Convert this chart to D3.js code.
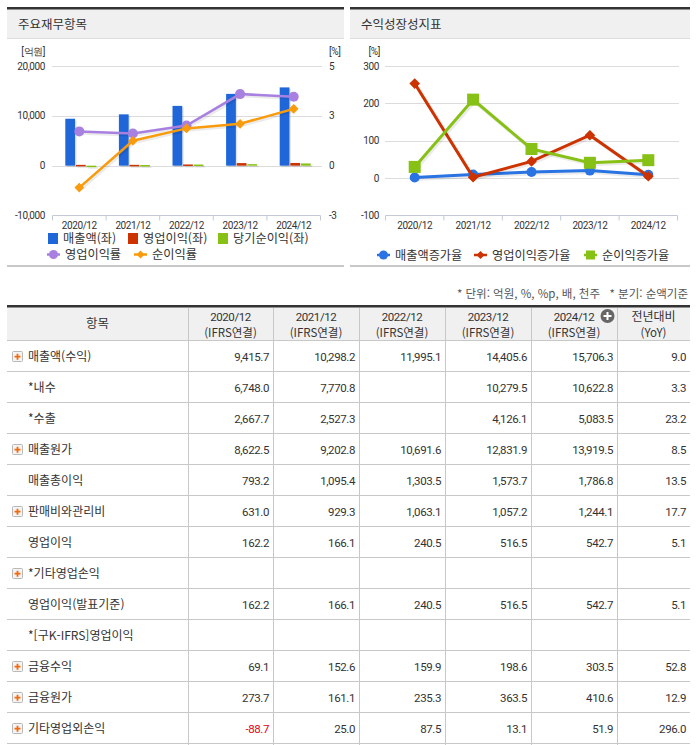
<!DOCTYPE html>
<html lang="ko">
<head>
<meta charset="utf-8">
<title>주요재무항목</title>
<script src="https://cdn.jsdelivr.net/npm/d3@7/dist/d3.min.js"></script>
<style>
  body { margin: 0; background: #fff; }
  svg text { font-family: "Noto Sans CJK KR", "Noto Sans", sans-serif; fill: #333; }
  .num { font-family: Roboto, "Liberation Sans", sans-serif; letter-spacing: -0.4px; }
</style>
</head>
<body>
<script>

// ---- chart data ----
var years = ["2020/12", "2021/12", "2022/12", "2023/12", "2024/12"];
var sales = [9415.7, 10298.2, 11995.1, 14405.6, 15706.3];
var opIncome = [162.2, 166.1, 240.5, 516.5, 542.7];
var netIncome = [-104, 129, 224, 303, 448];
var opMargin = [1.72, 1.61, 2.01, 3.59, 3.46];
var netMargin = [-1.1, 1.25, 1.87, 2.1, 2.85];

var salesGrowth = [1.5, 9.4, 16.5, 20.1, 9.0];
var opGrowth = [253, 2.4, 44.8, 114.8, 5.1];
var netGrowth = [30, 210, 78, 41, 48];

var leftTicks = [-10000, 0, 10000, 20000];
var rightTicks = [-2.5, 0, 2.5, 5];
var growthTicks = [-100, 0, 100, 200, 300];

// ---- table data ----
var colHeads = ["2020/12", "2021/12", "2022/12", "2023/12", "2024/12"];
var rowLabels = ["매출액(수익)", "*내수", "*수출", "매출원가", "매출총이익", "판매비와관리비", "영업이익",
                 "*기타영업손익", "영업이익(발표기준)", "*[구K-IFRS]영업이익", "금융수익", "금융원가", "기타영업외손익"];
var rowExpand = [true, false, false, true, false, true, false, true, false, false, true, true, true];
var rowValues = [
  ["9,415.7", "10,298.2", "11,995.1", "14,405.6", "15,706.3", "9.0"],
  ["6,748.0", "7,770.8", "", "10,279.5", "10,622.8", "3.3"],
  ["2,667.7", "2,527.3", "", "4,126.1", "5,083.5", "23.2"],
  ["8,622.5", "9,202.8", "10,691.6", "12,831.9", "13,919.5", "8.5"],
  ["793.2", "1,095.4", "1,303.5", "1,573.7", "1,786.8", "13.5"],
  ["631.0", "929.3", "1,063.1", "1,057.2", "1,244.1", "17.7"],
  ["162.2", "166.1", "240.5", "516.5", "542.7", "5.1"],
  ["", "", "", "", "", ""],
  ["162.2", "166.1", "240.5", "516.5", "542.7", "5.1"],
  ["", "", "", "", "", ""],
  ["69.1", "152.6", "159.9", "198.6", "303.5", "52.8"],
  ["273.7", "161.1", "235.3", "363.5", "410.6", "12.9"],
  ["-88.7", "25.0", "87.5", "13.1", "51.9", "296.0"]
];

var width = 697, height = 745;
var svg = d3.select("body").append("svg")
            .attr("width", width)
            .attr("height", height);

var fmt = function(v) { return d3.format(",")(v).replace("\u2212", "-"); };
var fmtRound = function(v) { return String(Math.sign(v) * Math.round(Math.abs(v))); };

function panel(x0, x1, title) {
  svg.append("rect").attr("x", x0).attr("y", 9).attr("width", x1 - x0).attr("height", 29).attr("fill", "#f0f0f0");
  svg.append("rect").attr("x", x0).attr("y", 7).attr("width", x1 - x0).attr("height", 2.5).attr("fill", "#333");
  svg.append("line").attr("x1", x0).attr("x2", x1).attr("y1", 38.5).attr("y2", 38.5).attr("stroke", "#ddd");
  svg.append("rect").attr("x", x0).attr("y", 265).attr("width", x1 - x0).attr("height", 2).attr("fill", "#c8c8c8");
  svg.append("text").attr("x", x0 + 11).attr("y", 28.5).attr("font-size", 12.5).text(title);
}

function xAxis(x, y) {
  var g = svg.append("g").attr("transform", "translate(0," + y + ")");
  var r = x.range();
  g.append("line").attr("x1", r[0]).attr("x2", r[1]).attr("stroke", "#c3cad6");
  var edges = x.domain().map(function(d) { return x(d); }).concat([r[1]]);
  g.selectAll(".tk").data(edges).enter().append("line")
   .attr("x1", function(d) { return d; }).attr("x2", function(d) { return d; })
   .attr("y1", 0).attr("y2", 5).attr("stroke", "#c3cad6");
  g.selectAll(".lb").data(x.domain()).enter().append("text")
   .attr("class", "num")
   .attr("x", function(d) { return x(d) + x.bandwidth() / 2; })
   .attr("y", 13).attr("text-anchor", "middle").attr("font-size", 10).text(function(d) { return d; });
}

function grid(y, ticks, x0, x1) {
  svg.selectAll(null).data(ticks.slice(1)).enter().append("line")
     .attr("x1", x0).attr("x2", x1)
     .attr("y1", function(d) { return Math.round(y(d)) + 0.5; })
     .attr("y2", function(d) { return Math.round(y(d)) + 0.5; })
     .attr("stroke", "#dcdcdc");
}

function yLabels(y, ticks, x, anchor, f) {
  svg.selectAll(null).data(ticks).enter().append("text")
     .attr("class", "num")
     .attr("x", x).attr("y", function(d) { return y(d) + 3.5; })
     .attr("text-anchor", anchor).attr("font-size", 10).text(f);
}

function marker(g, shape, x, y, color, size) {
  if (shape === "circle") {
    g.append("circle").attr("cx", x).attr("cy", y).attr("r", size).attr("fill", color);
  } else if (shape === "diamond") {
    g.append("path").attr("d", d3.symbol(d3.symbolDiamond2, size * size * 2)())
     .attr("transform", "translate(" + x + "," + y + ")").attr("fill", color);
  } else {
    g.append("rect").attr("x", x - size).attr("y", y - size).attr("width", size * 2).attr("height", size * 2).attr("fill", color);
  }
}

function series(x, y, values, color, shape, size, lw) {
  var g = svg.append("g");
  var pts = values.map(function(v, i) { return [x(years[i]) + x.bandwidth() / 2, y(v)]; });
  var line = d3.line();
  g.append("path").attr("d", line(pts.map(function(p) { return [p[0] + 1.5, p[1] + 1.5]; })))
   .attr("fill", "none").attr("stroke", "#000").attr("stroke-opacity", 0.08).attr("stroke-width", lw + 1);
  g.append("path").attr("d", line(pts)).attr("fill", "none").attr("stroke", color).attr("stroke-width", lw);
  pts.forEach(function(p) { marker(g, shape, p[0], p[1], color, size); });
}

function legendItem(x, y, color, shape, label, withLine) {
  var g = svg.append("g");
  if (withLine) {
    g.append("line").attr("x1", x).attr("x2", x + 13).attr("y1", y).attr("y2", y).attr("stroke", color).attr("stroke-width", 2.5);
    marker(g, shape, x + 6.5, y, color, 4.5);
  } else {
    g.append("rect").attr("x", x).attr("y", y - 5.5).attr("width", 10).attr("height", 11).attr("fill", color);
  }
  g.append("text").attr("x", x + (withLine ? 18 : 15)).attr("y", y + 4.5).attr("font-size", 12.2).text(label);
}

// ================= left chart =================
panel(7, 344, "주요재무항목");

var x1 = d3.scaleBand().domain(years).range([52.5, 320.5]);
var yL = d3.scaleLinear().domain([-10000, 20000]).range([215.5, 66]);
var yR = d3.scaleLinear().domain([-2.5, 5]).range([215.5, 66]);

grid(yL, leftTicks, 52, 322);
xAxis(x1, 215.5);
yLabels(yL, leftTicks, 45, "end", fmt);
yLabels(yR, rightTicks, 329, "start", fmtRound);
svg.append("text").attr("class", "num").attr("x", 45).attr("y", 55).attr("text-anchor", "end").attr("font-size", 10).text("[억원]");
svg.append("text").attr("class", "num").attr("x", 329).attr("y", 55).attr("font-size", 10).text("[%]");

var barSeries = [
  { values: sales, color: "#1f66d8" },
  { values: opIncome, color: "#cc3300" },
  { values: netIncome, color: "#88c116" }
];
var sub = d3.scaleBand().domain([0, 1, 2]).range([-14, 17]).paddingInner(0.08);

barSeries.forEach(function(s, k) {
  var g = svg.append("g");
  s.values.forEach(function(v, i) {
    var cx = x1(years[i]) + x1.bandwidth() / 2 + sub(k);
    var y0 = Math.min(yL(v), yL(0)), h = Math.max(Math.abs(yL(v) - yL(0)), 1.5);
    g.append("rect").attr("x", cx + 1.5).attr("y", y0 + 1.5).attr("width", sub.bandwidth()).attr("height", h)
     .attr("fill", "#000").attr("fill-opacity", 0.1);
    g.append("rect").attr("x", cx).attr("y", y0).attr("width", sub.bandwidth()).attr("height", h).attr("fill", s.color);
  });
});

series(x1, yR, opMargin, "#a880e0", "circle", 5, 2.5);
series(x1, yR, netMargin, "#f89c0e", "diamond", 5.5, 2.5);

legendItem(48, 238.5, "#1f66d8", "", "매출액(좌)", false);
legendItem(128, 238.5, "#cc3300", "", "영업이익(좌)", false);
legendItem(218, 238.5, "#88c116", "", "당기순이익(좌)", false);
legendItem(47, 254.5, "#a880e0", "circle", "영업이익률", true);
legendItem(134, 254.5, "#f89c0e", "diamond", "순이익률", true);

// ================= right chart =================
panel(350, 690, "수익성장성지표");

var x2 = d3.scaleBand().domain(years).range([385.5, 677.5]);
var y2 = d3.scaleLinear().domain([-100, 300]).range([215.5, 66]);

grid(y2, growthTicks, 385, 679);
xAxis(x2, 215.5);
yLabels(y2, growthTicks, 379, "end", fmt);
svg.append("text").attr("class", "num").attr("x", 380).attr("y", 55).attr("text-anchor", "end").attr("font-size", 10).text("[%]");

series(x2, y2, salesGrowth, "#2a73e3", "circle", 5, 3);
series(x2, y2, opGrowth, "#cc3300", "diamond", 6, 3);
series(x2, y2, netGrowth, "#88c116", "square", 6, 3);

legendItem(377, 255, "#2a73e3", "circle", "매출액증가율", true);
legendItem(474, 255, "#cc3300", "diamond", "영업이익증가율", true);
legendItem(584, 255, "#88c116", "square", "순이익증가율", true);

// ================= table =================
svg.append("text").attr("x", 600).attr("y", 298).attr("text-anchor", "end").attr("font-size", 11.5)
   .style("fill", "#555").text("* 단위: 억원, %, %p, 배, 천주");
svg.append("text").attr("x", 688).attr("y", 298).attr("text-anchor", "end").attr("font-size", 11.5)
   .style("fill", "#555").text("* 분기: 순액기준");

var colEdges = [7, 188, 273, 359, 445, 531, 617, 690];
var headTop = 307, headBottom = 341;
var rowY = d3.scaleBand().domain(d3.range(rowLabels.length)).range([headBottom, headBottom + 31 * rowLabels.length]);

svg.append("rect").attr("x", 7).attr("y", headTop).attr("width", 683).attr("height", headBottom - headTop).attr("fill", "#f0f0f0");
svg.append("rect").attr("x", 7).attr("y", 305).attr("width", 683).attr("height", 2.5).attr("fill", "#333");

// row lines
svg.selectAll(".rl").data(d3.range(rowLabels.length + 1)).enter().append("line")
   .attr("x1", 7).attr("x2", 690)
   .attr("y1", function(i) { return headBottom + 31 * i - 0.5; })
   .attr("y2", function(i) { return headBottom + 31 * i - 0.5; })
   .attr("stroke", "#c8c8c8");
// column lines
svg.selectAll(".cl").data(colEdges.slice(1, -1)).enter().append("line")
   .attr("x1", function(d) { return d + 0.5; }).attr("x2", function(d) { return d + 0.5; })
   .attr("y1", headTop + 1).attr("y2", height)
   .attr("stroke", "#c8c8c8");

// header
svg.append("text").attr("x", (colEdges[0] + colEdges[1]) / 2).attr("y", 328).attr("text-anchor", "middle").attr("font-size", 12.5).text("항목");
colHeads.forEach(function(h, i) {
  var cx = (colEdges[i + 1] + colEdges[i + 2]) / 2;
  svg.append("text").attr("class", "num").attr("x", cx).attr("y", 320.5).attr("text-anchor", "middle").attr("font-size", 11.5).text(h);
  svg.append("text").attr("x", cx).attr("y", 337).attr("text-anchor", "middle").attr("font-size", 11.5).text("(IFRS연결)");
});
var lastC = (colEdges[6] + colEdges[7]) / 2;
svg.append("text").attr("x", lastC).attr("y", 320.5).attr("text-anchor", "middle").attr("font-size", 12).text("전년대비");
svg.append("text").attr("x", lastC).attr("y", 337).attr("text-anchor", "middle").attr("font-size", 11.5).text("(YoY)");
svg.append("circle").attr("cx", 607.5).attr("cy", 316).attr("r", 7).attr("fill", "#666");
svg.append("path").attr("d", "M603.5,316H611.5M607.5,312V320").attr("stroke", "#fff").attr("stroke-width", 2);

// body rows
rowLabels.forEach(function(label, r) {
  var cy = rowY(r) + rowY.bandwidth() / 2;
  if (rowExpand[r]) {
    svg.append("rect").attr("x", 12.5).attr("y", cy - 5).attr("width", 10).attr("height", 10)
       .attr("fill", "#f4f4f4").attr("stroke", "#b8b8b8").attr("rx", 1);
    svg.append("path").attr("d", "M14.5," + (cy + 0.2) + "H20.5M17.5," + (cy - 2.8) + "V" + (cy + 3.2))
       .attr("stroke", "#f26a0e").attr("stroke-width", 1.8);
  }
  svg.append("text").attr("x", 28).attr("y", cy + 4.5).attr("font-size", 12).text(label);
  rowValues[r].forEach(function(v, c) {
    if (!v) return;
    svg.append("text").attr("class", "num")
       .attr("x", colEdges[c + 2] - 4).attr("y", cy + 4)
       .attr("text-anchor", "end").attr("font-size", 11.5)
       .style("fill", v.charAt(0) === "-" ? "#e60012" : "#333")
       .text(v);
  });
});

</script>
</body>
</html>
